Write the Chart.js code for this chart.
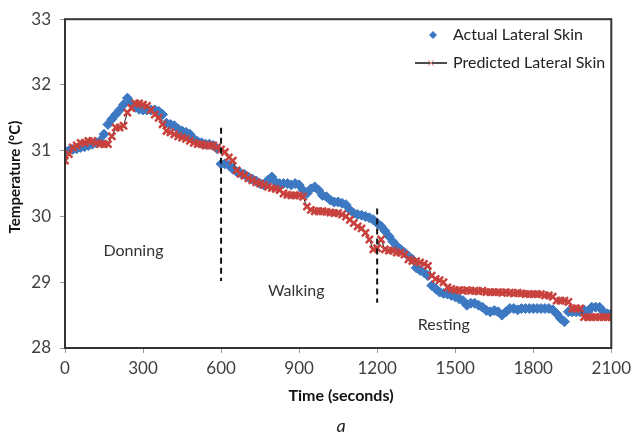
<!DOCTYPE html>
<html>
<head>
<meta charset="utf-8">
<script src="https://cdn.jsdelivr.net/npm/chart.js@4.4.1/dist/chart.umd.min.js"></script>
<style>
  html, body { margin: 0; padding: 0; background: #fff; }
  #wrap { width: 636px; height: 434px; position: relative; }
</style>
</head>
<body>
<div id="wrap"><canvas id="chart" width="636" height="434"></canvas></div>
<script>
// sample times (s)
const sampleTimes = [
  0, 15, 30, 45, 60, 75, 90, 105, 120, 135,
  150, 165, 180, 195, 210, 225, 240, 255, 270, 285,
  300, 315, 330, 345, 360, 375, 390, 405, 420, 435,
  450, 465, 480, 495, 510, 525, 540, 555, 570, 585,
  600, 615, 630, 645, 660, 675, 690, 705, 720, 735,
  750, 765, 780, 795, 810, 825, 840, 855, 870, 885,
  900, 915, 930, 945, 960, 975, 990, 1005, 1020, 1035,
  1050, 1065, 1080, 1095, 1110, 1125, 1140, 1155, 1170, 1185,
  1200, 1215, 1230, 1245, 1260, 1275, 1290, 1305, 1320, 1335,
  1350, 1365, 1380, 1395, 1410, 1425, 1440, 1455, 1470, 1485,
  1500, 1515, 1530, 1545, 1560, 1575, 1590, 1605, 1620, 1635,
  1650, 1665, 1680, 1695, 1710, 1725, 1740, 1755, 1770, 1785,
  1800, 1815, 1830, 1845, 1860, 1875, 1890, 1905, 1920, 1935,
  1950, 1965, 1980, 1995, 2010, 2025, 2040, 2055, 2070, 2085,
  2100
];

const actualSkin = [
  31.00, 31.00, 31.02, 31.03, 31.05, 31.06, 31.08, 31.10, 31.12, 31.15,
  31.25, 31.40, 31.48, 31.55, 31.62, 31.70, 31.80, 31.72, 31.66, 31.63,
  31.62, 31.62, 31.62, 31.62, 31.60, 31.55, 31.42, 31.40, 31.38, 31.33,
  31.30, 31.28, 31.25, 31.18, 31.14, 31.12, 31.10, 31.10, 31.08, 31.03,
  30.80, 30.80, 30.78, 30.72, 30.68, 30.66, 30.64, 30.60, 30.57, 30.54,
  30.50, 30.48, 30.55, 30.60, 30.52, 30.50, 30.50, 30.50, 30.48, 30.50,
  30.48, 30.40, 30.35, 30.42, 30.45, 30.40, 30.32, 30.30, 30.25, 30.22,
  30.22, 30.20, 30.18, 30.10, 30.05, 30.03, 30.02, 30.00, 29.98, 29.95,
  29.90, 29.85, 29.78, 29.70, 29.62, 29.55, 29.50, 29.45, 29.40, 29.35,
  29.22, 29.18, 29.15, 29.10, 28.95, 28.90, 28.85, 28.83, 28.82, 28.80,
  28.78, 28.75, 28.72, 28.65, 28.68, 28.68, 28.65, 28.62, 28.57, 28.55,
  28.57, 28.55, 28.50, 28.55, 28.60, 28.60, 28.58, 28.60, 28.60, 28.60,
  28.60, 28.60, 28.60, 28.60, 28.60, 28.58, 28.52, 28.45, 28.40, 28.55,
  28.55, 28.55, 28.55, 28.58, 28.55, 28.62, 28.62, 28.62, 28.55, 28.52,
  28.52
];

const predictedSkin = [
  30.85, 30.95, 31.05, 31.08, 31.12, 31.12, 31.15, 31.15, 31.12, 31.10,
  31.10, 31.10, 31.22, 31.35, 31.35, 31.38, 31.58, 31.65, 31.72, 31.72,
  31.70, 31.68, 31.62, 31.55, 31.50, 31.40, 31.30, 31.28, 31.25, 31.22,
  31.20, 31.18, 31.15, 31.12, 31.10, 31.10, 31.08, 31.08, 31.08, 31.05,
  31.02, 30.98, 30.90, 30.85, 30.70, 30.65, 30.62, 30.58, 30.55, 30.52,
  30.50, 30.48, 30.45, 30.43, 30.42, 30.40, 30.35, 30.33, 30.32, 30.32,
  30.32, 30.30, 30.15, 30.10, 30.08, 30.08, 30.08, 30.07, 30.06, 30.05,
  30.05, 30.03, 30.00, 29.95, 29.90, 29.85, 29.82, 29.75, 29.65, 29.50,
  29.52, 29.65, 29.50, 29.48, 29.48, 29.45, 29.45, 29.42, 29.35, 29.32,
  29.32, 29.30, 29.28, 29.25, 29.10, 29.05, 29.03, 29.00, 28.92, 28.90,
  28.88, 28.88, 28.87, 28.88, 28.87, 28.87, 28.86, 28.87, 28.85, 28.85,
  28.85, 28.85, 28.84, 28.85, 28.84, 28.83, 28.84, 28.83, 28.82, 28.82,
  28.82, 28.82, 28.82, 28.80, 28.80, 28.78, 28.72, 28.72, 28.72, 28.70,
  28.60, 28.60, 28.60, 28.47, 28.47, 28.47, 28.47, 28.47, 28.47, 28.47,
  28.47
];

// phase boundaries (dashed verticals) and phase labels
const phaseMarkTimes = [600, 1200];
const phaseMarkTop = [31.35, 30.12];
const phaseMarkBottom = [29.02, 28.69];
const phaseNames = ['Donning', 'Walking', 'Resting'];
const phaseLabelTimes = [263, 889, 1456];
const phaseLabelTemps = [29.48, 28.87, 28.35];

const xTicks = [0, 300, 600, 900, 1200, 1500, 1800, 2100];
const yTicks = [28, 29, 30, 31, 32, 33];

const BLUE = '#3d78c2';
const RED = '#c8413d';
const FONT = 'Lato, "Open Sans", sans-serif';

const toPoints = (xs, ys) => xs.map((x, i) => ({ x: x, y: ys[i] }));

const phaseLines = phaseMarkTimes.map((t, i) => ({
  label: 'phase' + i,
  data: [{ x: t, y: phaseMarkTop[i] }, { x: t, y: phaseMarkBottom[i] }],
  borderColor: '#111',
  borderWidth: 2,
  borderDash: [6, 4],
  pointRadius: 0,
  showLine: true,
  order: 0
}));

// box, titles, phase labels and legend
const decorPlugin = {
  id: 'decor',
  afterDatasetsDraw(chart) {
    const { ctx, chartArea: a, scales } = chart;
    ctx.save();
    ctx.strokeStyle = '#333';
    ctx.lineWidth = 2;
    ctx.strokeRect(a.left, a.top, a.right - a.left, a.bottom - a.top);

    ctx.fillStyle = '#333';
    ctx.font = '16px ' + FONT;
    ctx.textAlign = 'center';
    ctx.textBaseline = 'middle';
    phaseNames.forEach((name, i) => {
      ctx.fillText(name, scales.x.getPixelForValue(phaseLabelTimes[i]),
        scales.y.getPixelForValue(phaseLabelTemps[i]));
    });

    // legend
    ctx.font = '16px ' + FONT;
    ctx.textAlign = 'left';
    ctx.fillStyle = '#222';
    ctx.fillText('Actual Lateral Skin', 453, 35);
    ctx.fillText('Predicted Lateral Skin', 453, 63);
    ctx.fillStyle = BLUE;
    ctx.beginPath();
    ctx.moveTo(433, 31); ctx.lineTo(437, 35); ctx.lineTo(433, 39); ctx.lineTo(429, 35);
    ctx.closePath(); ctx.fill();
    ctx.strokeStyle = '#111';
    ctx.lineWidth = 1.5;
    ctx.beginPath(); ctx.moveTo(415, 63); ctx.lineTo(447, 63); ctx.stroke();
    ctx.strokeStyle = '#e08080';
    ctx.lineWidth = 1;
    ctx.beginPath();
    ctx.moveTo(428, 60); ctx.lineTo(434, 66); ctx.moveTo(434, 60); ctx.lineTo(428, 66);
    ctx.stroke();
    ctx.restore();
  },
  afterDraw(chart) {
    const { ctx } = chart;
    ctx.save();
    ctx.fillStyle = '#111';
    ctx.textAlign = 'center';
    ctx.textBaseline = 'middle';
    ctx.font = 'bold 16px ' + FONT;
    ctx.fillText('Time (seconds)', 341, 396);
    ctx.font = 'bold 15px ' + FONT;
    ctx.translate(15, 177);
    ctx.rotate(-Math.PI / 2);
    ctx.fillText('Temperature (°C)', 0, 0);
    ctx.restore();
    ctx.save();
    ctx.fillStyle = '#222';
    ctx.textAlign = 'center';
    ctx.textBaseline = 'middle';
    ctx.font = 'italic 18px ' + FONT;
    ctx.fillText('a', 341, 426);
    ctx.restore();
  }
};

new Chart(document.getElementById('chart').getContext('2d'), {
  type: 'scatter',
  data: {
    datasets: [
      {
        label: 'Actual Lateral Skin',
        data: toPoints(sampleTimes, actualSkin),
        showLine: false,
        pointStyle: 'rectRot',
        pointRadius: 5,
        pointBackgroundColor: BLUE,
        pointBorderColor: BLUE,
        pointBorderWidth: 1,
        order: 2
      },
      {
        label: 'Predicted Lateral Skin',
        data: toPoints(sampleTimes, predictedSkin),
        showLine: true,
        borderColor: '#222',
        borderWidth: 1,
        pointStyle: 'crossRot',
        pointRadius: 5,
        pointBorderColor: RED,
        pointBorderWidth: 2.5,
        order: 1
      },
      ...phaseLines
    ]
  },
  options: {
    responsive: false,
    animation: false,
    events: [],
    layout: { padding: { left: 0, top: 15, right: 20, bottom: 0 } },
    plugins: {
      legend: { display: false },
      tooltip: { enabled: false }
    },
    scales: {
      x: {
        type: 'linear',
        min: 0,
        max: 2100,
        afterBuildTicks: (s) => { s.ticks = xTicks.map(v => ({ value: v })); },
        afterFit: (s) => { s.height = 86; },
        grid: { display: true, drawOnChartArea: false, drawTicks: true, tickLength: 5, color: '#999' },
        border: { display: false },
        ticks: {
          color: '#404040', font: { family: FONT, size: 17 }, padding: 5, maxRotation: 0,
          callback: (v) => String(v)
        }
      },
      y: {
        min: 28,
        max: 33,
        afterBuildTicks: (s) => { s.ticks = yTicks.map(v => ({ value: v })); },
        afterFit: (s) => { s.width = 65; },
        grid: { display: true, drawOnChartArea: false, drawTicks: true, tickLength: 5, color: '#999' },
        border: { display: false },
        ticks: {
          color: '#404040', font: { family: FONT, size: 17 }, padding: 9,
          callback: (v) => String(v)
        }
      }
    }
  },
  plugins: [decorPlugin]
});
</script>
</body>
</html>
